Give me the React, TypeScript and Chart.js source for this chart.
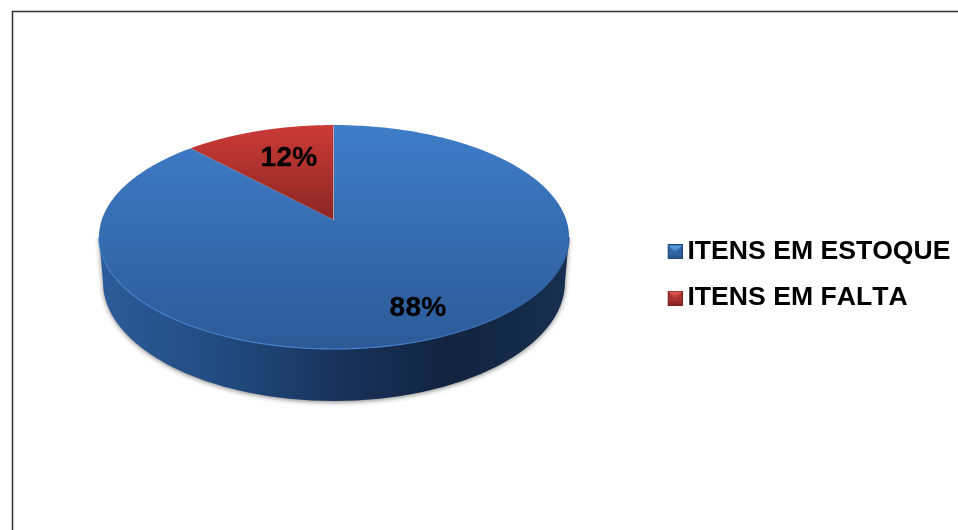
import React, { useEffect, useRef } from "react";
import { Chart, registerables } from "chart.js";

Chart.register(...registerables);

const categories = ["ITENS EM ESTOQUE", "ITENS EM FALTA"];
const stockShare = [88, 12];

const APEX = { x: 334, y: 220 };
const RX = 232.3;
const RY = 109.4;
const PERSPECTIVE = 0.152;
const LABEL_SPOTS = [
  { x: 418, y: 308 },
  { x: 289, y: 158 },
];

function project(angle: number) {
  const u = Math.cos(angle);
  const v = -Math.sin(angle);
  const d = 1 + PERSPECTIVE * v;
  return { x: APEX.x + (RX * u) / d, y: APEX.y - (RY * v) / d };
}

function facePath(ctx: CanvasRenderingContext2D, start: number, end: number) {
  ctx.beginPath();
  ctx.moveTo(APEX.x, APEX.y);
  const steps = 360;
  for (let i = 0; i <= steps; i++) {
    const p = project(start + ((end - start) * i) / steps);
    ctx.lineTo(p.x, p.y);
  }
  ctx.closePath();
}

function makeMarker(border: string, light: string, mid: string, dark: string) {
  // 3px of clear space on the left pushes the drawn square towards the text
  const c = document.createElement("canvas");
  c.width = 18;
  c.height = 15;
  const g = c.getContext("2d")!;
  g.translate(3, 0);
  g.fillStyle = border;
  g.fillRect(0, 0, 15, 15);
  g.fillStyle = mid;
  g.fillRect(1, 1, 13, 13);
  const top = g.createLinearGradient(0, 1, 0, 9);
  top.addColorStop(0, light);
  top.addColorStop(1, mid);
  g.fillStyle = top;
  g.beginPath();
  g.moveTo(1, 1);
  g.lineTo(14, 1);
  g.lineTo(7.5, 9);
  g.closePath();
  g.fill();
  g.fillStyle = dark;
  g.fillRect(1, 11, 13, 3);
  return c;
}

const piePlugin = {
  id: "perspectivePie",
  beforeDraw(chart: any) {
    const ctx = chart.ctx as CanvasRenderingContext2D;
    (ctx as any).fontKerning = "none";
    ctx.save();
    ctx.strokeStyle = "#333333";
    ctx.lineWidth = 1.5;
    ctx.beginPath();
    ctx.moveTo(12.5, 530);
    ctx.lineTo(12.5, 11.5);
    ctx.lineTo(958, 11.5);
    ctx.stroke();
    ctx.restore();
  },
  beforeDatasetsDraw(chart: any) {
    const ctx = chart.ctx as CanvasRenderingContext2D;
    const arcs = chart.getDatasetMeta(0).data;
    ctx.save();

    // side wall, following the near half of the pie down to its base
    const side = ctx.createLinearGradient(100, 0, 568, 0);
    side.addColorStop(0, "#2c5c9a");
    side.addColorStop(0.3, "#20477a");
    side.addColorStop(0.55, "#182f55");
    side.addColorStop(0.75, "#11233f");
    side.addColorStop(1, "#172f50");
    const baseY = 282;
    ctx.save();
    ctx.shadowColor = "rgba(0,0,0,0.5)";
    ctx.shadowBlur = 5;
    ctx.shadowOffsetY = 1;
    ctx.fillStyle = side;
    ctx.beginPath();
    ctx.moveTo(99.5, 237);
    ctx.lineTo(100.5, 253);
    ctx.ellipse(334, baseY, 231, 119, 0, Math.PI, 0, true);
    ctx.lineTo(567.5, 253);
    ctx.lineTo(568.5, 237);
    ctx.closePath();
    ctx.fill();
    ctx.restore();

    const fills = [
      { top: 125, bottom: 349, from: "#3f7dc8", to: "#2c5a97" },
      { top: 125, bottom: 220, from: "#cb3b37", to: "#8c2624" },
    ];
    arcs.forEach((arc: any, i: number) => {
      const f = fills[i];
      const grad = ctx.createLinearGradient(0, f.top, 0, f.bottom);
      grad.addColorStop(0, f.from);
      grad.addColorStop(1, f.to);
      ctx.fillStyle = grad;
      facePath(ctx, arc.startAngle, arc.endAngle);
      ctx.fill();
    });

    // light rim on the near edge of the top face, from widest point to widest point
    const rim = ctx.createLinearGradient(100, 0, 568, 0);
    rim.addColorStop(0, "#3f7dc8");
    rim.addColorStop(0.55, "#4a86d0");
    rim.addColorStop(1, "#2f5f9f");
    ctx.strokeStyle = rim;
    ctx.lineWidth = 1.2;
    const wide = Math.asin(PERSPECTIVE);
    ctx.beginPath();
    for (let i = 0; i <= 200; i++) {
      const p = project(wide + ((Math.PI - 2 * wide) * i) / 200);
      if (i === 0) ctx.moveTo(p.x, p.y);
      else ctx.lineTo(p.x, p.y);
    }
    ctx.stroke();

    // pale seam where the two slices meet at the top
    ctx.strokeStyle = "rgba(205,205,215,0.7)";
    ctx.lineWidth = 1;
    ctx.beginPath();
    ctx.moveTo(APEX.x - 0.5, APEX.y);
    ctx.lineTo(APEX.x - 0.5, 126);
    ctx.stroke();
    ctx.restore();
    return false;
  },
  afterDraw(chart: any) {
    const ctx = chart.ctx as CanvasRenderingContext2D;
    const values = chart.data.datasets[0].data as number[];
    const total = values.reduce((a, b) => a + b, 0);
    ctx.save();
    ctx.fillStyle = "#000000";
    ctx.strokeStyle = "#000000";
    ctx.lineWidth = 0.3;
    ctx.lineJoin = "round";
    ctx.font = 'bold 28px "Liberation Sans", Arial, sans-serif';
    ctx.textAlign = "center";
    ctx.textBaseline = "middle";
    (ctx as any).letterSpacing = "0.3px";
    values.forEach((v, i) => {
      const label = `${Math.round((v / total) * 100)}%`;
      ctx.fillText(label, LABEL_SPOTS[i].x, LABEL_SPOTS[i].y);
      ctx.strokeText(label, LABEL_SPOTS[i].x, LABEL_SPOTS[i].y);
    });
    ctx.restore();
  },
};

export default function App() {
  const ref = useRef<HTMLCanvasElement>(null);

  useEffect(() => {
    if (!ref.current) return;
    const markers = [
      makeMarker("#234a7e", "#62a8ec", "#2f629f", "#2a568e"),
      makeMarker("#7a2422", "#e25e58", "#a8322f", "#8e2927"),
    ];
    const chart = new Chart(ref.current, {
      type: "pie",
      data: {
        labels: categories,
        datasets: [
          {
            data: stockShare,
            backgroundColor: ["#3a72b8", "#b83533"],
            borderWidth: 0,
          },
        ],
      },
      plugins: [piePlugin as any],
      options: {
        animation: false,
        responsive: false,
        devicePixelRatio: 1,
        layout: { padding: { top: 20, right: -2, bottom: 0, left: 0 } },
        plugins: {
          tooltip: { enabled: false },
          legend: {
            display: true,
            position: "right",
            labels: {
              usePointStyle: true,
              pointStyleWidth: 1,
              padding: 19.5,
              color: "#000000",
              font: { family: '"Liberation Sans", Arial, sans-serif', size: 26.6, weight: "bold" },
              generateLabels: (c: any) =>
                c.data.labels.map((text: string, i: number) => ({
                  text,
                  pointStyle: markers[i],
                  fontColor: "#000000",
                  fillStyle: "#000000",
                  lineWidth: 0,
                  hidden: false,
                  index: i,
                })),
            },
          },
        },
      } as any,
    });
    return () => chart.destroy();
  }, []);

  return (
    <div style={{ position: "absolute", left: 0, top: 0, width: 958, height: 530 }}>
      <canvas ref={ref} width={958} height={530} style={{ display: "block" }} />
    </div>
  );
}
